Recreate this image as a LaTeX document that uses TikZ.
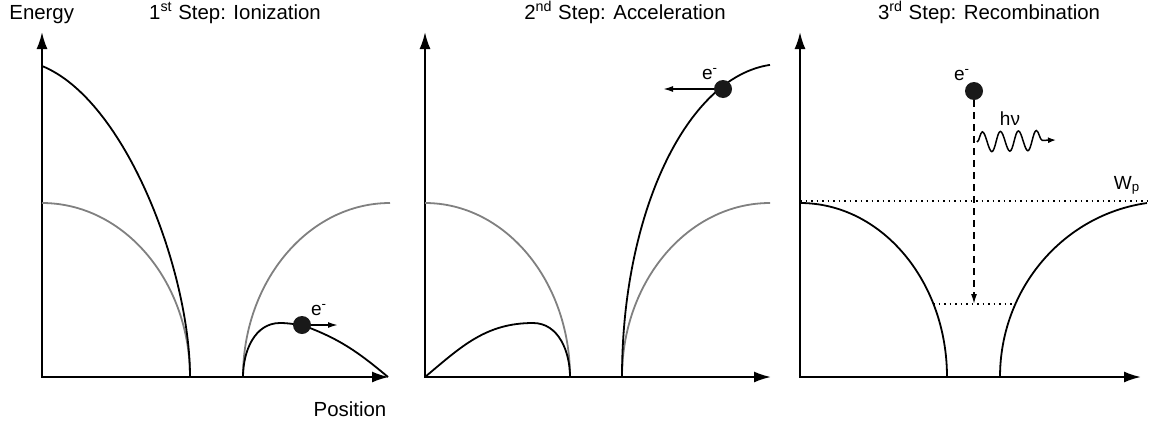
\documentclass[tikz,border=0pt]{standalone}
\usepackage{fontspec}
\setmainfont{Liberation Sans}
\usetikzlibrary{arrows.meta,decorations.pathmorphing}

\tikzset{
  axes/.style={line width=1pt,{Latex[length=8.5pt,width=5.5pt]}-{Latex[length=8.5pt,width=5.5pt]}},
  curve/.style={line width=0.9pt},
  gcurve/.style={line width=0.9pt,black!50},
  push/.style={line width=0.8pt,-{Latex[length=5pt,width=3pt]}},
  ball/.style={circle,fill=black!90,inner sep=0pt,minimum size=9pt},
  lbl/.style={font=\fontsize{9.5}{11}\selectfont,inner sep=0pt},
  ttl/.style={font=\fontsize{10.2}{12}\selectfont,inner sep=0pt,anchor=base},
  level/.style={line width=0.75pt,dotted},
  drop/.style={line width=0.75pt,dash pattern=on 3.5pt off 2.5pt,-{Latex[length=5pt,width=3pt]}},
  photon/.style={line width=0.75pt,decorate,decoration={snake,amplitude=5pt,segment length=9pt,post length=4pt},-{Latex[length=4pt,width=3pt]}}
}

\begin{document}
\begin{tikzpicture}[x=0.5pt,y=0.5pt]
\useasboundingbox (0,0) rectangle (1149,425);

% titles
\node[ttl,anchor=base west] (Energy) at (9,406) {Energy};
\node[ttl] (Title1) at (235,406) {1\textsuperscript{st} Step: Ionization};
\node[ttl] (Title2) at (625,406) {2\textsuperscript{nd} Step: Acceleration};
\node[ttl] (Title3) at (989,406) {3\textsuperscript{rd} Step: Recombination};
\node[ttl] (Position) at (350,9) {Position};

% 1st step
\coordinate (Y1) at (42,393);
\coordinate (O1) at (42,48);
\coordinate (X1) at (389,48);
\draw[axes] (Y1) -- (O1) -- (X1);
\coordinate (G1) at (42,222);
\draw[gcurve] (G1) arc[start angle=90,end angle=0,x radius=148,y radius=174];
\coordinate (S1r) at (243,48);
\draw[gcurve] (S1r) arc[start angle=180,end angle=90,x radius=147,y radius=174];
\coordinate (T1) at (42,359);
\coordinate (B1) at (190,48);
\coordinate (P1) at (280,102);
\coordinate (K1) at (302,100);
\coordinate (E1) at (388,48);
\path[curve] (T1) edge[out=-22,in=90,out looseness=0.67,in looseness=0.79] (B1);
\path[curve] (S1r) edge[out=90,in=180] (P1)
  (P1) edge[out=0,in=175] (K1)
  (K1) edge[out=-20,in=140] (E1);
\node[ball] (Ball1) at (K1) {};
\coordinate (V1) at (338,100);
\draw[push] (Ball1.east) -- (V1);
\node[lbl] (El1) at (319,115) {e\textsuperscript{-}};

% 2nd step
\coordinate (Y2) at (425,393);
\coordinate (O2) at (425,48);
\coordinate (X2) at (771,48);
\draw[axes] (Y2) -- (O2) -- (X2);
\coordinate (G2) at (425,222);
\draw[gcurve] (G2) arc[start angle=90,end angle=0,x radius=145,y radius=174];
\coordinate (S2r) at (622,48);
\draw[gcurve] (S2r) arc[start angle=180,end angle=90,x radius=148,y radius=174];
\draw[curve] (S2r) arc[start angle=180,end angle=94.3,x radius=160,y radius=313];
\coordinate (P2) at (533,102);
\coordinate (B2) at (570,48);
\path[curve] (O2) edge[out=40,in=180] (P2)
  (P2) edge[out=0,in=90] (B2);
\node[ball] (Ball2) at (723,336) {};
\coordinate (V2) at (663,336);
\draw[push] (Ball2.west) -- (V2);
\node[lbl] (El2) at (710,351) {e\textsuperscript{-}};

% 3rd step
\coordinate (Y3) at (800,393);
\coordinate (O3) at (800,48);
\coordinate (X3) at (1141,48);
\draw[axes] (Y3) -- (O3) -- (X3);
\coordinate (G3) at (800,222);
\draw[curve] (G3) arc[start angle=90,end angle=0,x radius=147,y radius=174];
\coordinate (S3r) at (1000,48);
\draw[curve] (S3r) arc[start angle=180,end angle=97.8,x radius=170,y radius=175.6];
\coordinate (W1) at (800,224);
\coordinate (W2) at (1147,224);
\draw[level] (W1) -- (W2);
\coordinate (L1) at (933,121);
\coordinate (L2) at (1015,121);
\draw[level] (L1) -- (L2);
\node[ball] (Ball3) at (974,334) {};
\coordinate (D3) at (974,121);
\draw[drop] (Ball3.south) -- (D3);
\node[lbl] (El3) at (962,350) {e\textsuperscript{-}};
\coordinate (H1) at (977,283);
\coordinate (H2) at (1056,285);
\draw[photon] (H1) -- (H2);
\node[lbl] (Hnu) at (1010,306) {hν};
\node[lbl] (Wp) at (1127,240) {W\textsubscript{p}};
\end{tikzpicture}
\end{document}
